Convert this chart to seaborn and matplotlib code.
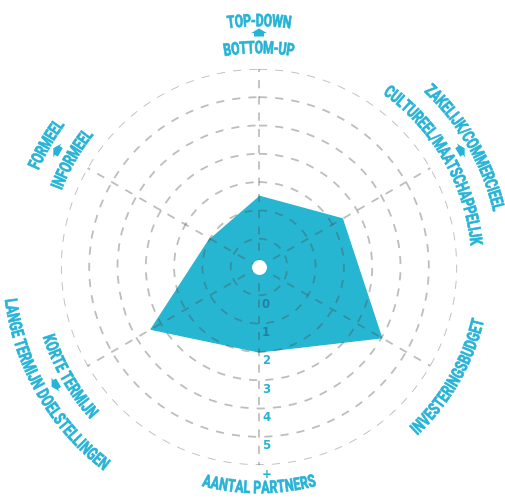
import numpy as np
import pandas as pd
import matplotlib
matplotlib.use('Agg')
import matplotlib.pyplot as plt
import seaborn as sns
from matplotlib.textpath import TextPath
from matplotlib.font_manager import FontProperties
from matplotlib.path import Path
from matplotlib.patches import PathPatch, Polygon

# data: one score per axis, clockwise from the top
categories = ['TOP-DOWN / BOTTOM-UP', 'ZAKELIJK / CULTUREEL', 'INVESTERINGSBUDGET',
              'AANTAL PARTNERS', 'LANGE / KORTE TERMIJN', 'FORMEEL / INFORMEEL']
scores = [1.5, 2.4, 4.0, 2.0, 3.4, 1.0]
ring_labels = ['0', '1', '2', '3', '4', '5', '+']

sns.set_style('white')
CYAN = '#27b6d2'
TXT = '#25b3d6'
FP = FontProperties(family=['Roboto', 'DejaVu Sans'], weight='bold')

W, H = 505, 498
CX, CY = 259, 267      # chart centre in image pixels
UNIT = 28.3            # pixels per score unit
rmin, rmax = -1, 6

fig = plt.figure(figsize=(W / 100, H / 100), dpi=100)
half = (rmax - rmin) * UNIT
ax = fig.add_axes([(CX - half) / W, (H - CY - half) / H, 2 * half / W, 2 * half / H],
                  projection='polar')
ax.set_theta_zero_location('N')
ax.set_theta_direction(-1)

theta = np.linspace(0, 2 * np.pi, len(categories), endpoint=False)
df = pd.DataFrame({'theta': np.append(theta, theta[0]),
                   'r': np.append(scores, scores[0])})
ax.fill(df['theta'], df['r'], color=CYAN, lw=0, zorder=1)
sns.lineplot(data=df, x='theta', y='r', sort=False, color=CYAN, lw=1, ax=ax, zorder=1)

ax.set_ylim(rmin, rmax)
ax.set_yticks(range(len(ring_labels)))
ax.set_yticklabels([])
ax.set_xticks(theta)
ax.set_xticklabels([])
ax.set_xlabel('')
ax.set_ylabel('')
ax.set_axisbelow(False)
ax.grid(True, color='#4a4a4a', alpha=0.36, linestyle=(0, (4.5, 4.5)), linewidth=1.3)
ax.spines['polar'].set_visible(False)

# white hole in the middle
ax.scatter([0], [rmin], s=115, color='white', linewidths=0, zorder=3)

# ring numbers along the bottom spoke
for k, lab in enumerate(ring_labels):
    col = '#2180a6' if k < 2 else TXT
    ax.annotate(lab, xy=(np.pi, k), xytext=(3, -9), textcoords='offset pixels',
                ha='left', va='center', fontsize=8.5, fontweight='bold', color=col, zorder=4)

# overlay in image pixels for the curved labels
ov = fig.add_axes([0, 0, 1, 1])
ov.set_xlim(0, W)
ov.set_ylim(H, 0)
ov.axis('off')


def arc_text(text, ang, radius, size=17.5, sx=0.7):
    tp = TextPath((0, 0), text, size=size, prop=FP)
    v = tp.vertices
    bb = tp.get_extents()
    xm = (bb.x0 + bb.x1) / 2
    cap = 0.72 * size
    s = (v[:, 0] - xm) * sx
    a0 = np.radians(ang)
    if 0 < ang < 180:
        th = a0 - s / radius
        rr = radius - cap / 2 + v[:, 1]
    else:
        th = a0 + s / radius
        rr = radius + cap / 2 - v[:, 1]
    pts = np.column_stack([CX + rr * np.cos(th), CY - rr * np.sin(th)])
    ov.add_patch(PathPatch(Path(pts, tp.codes), fc=TXT, ec=TXT, lw=0.45))


def arc_arrow(ang, radius):
    loc = np.array([(4.5, 0), (0, 8), (0, 5), (-3.5, 5), (-3.5, -5), (0, -5), (0, -8)])
    a0 = np.radians(ang)
    rr = radius + loc[:, 0]
    th = a0 + loc[:, 1] / radius
    pts = np.column_stack([CX + rr * np.cos(th), CY - rr * np.sin(th)])
    ov.add_patch(Polygon(pts, closed=True, fc=TXT, lw=0))


arc_text('TOP-DOWN', 90, 247)
arc_text('BOTTOM-UP', 90, 220)
arc_arrow(90, 234)

arc_text('ZAKELIJK/COMMERCIEEL', 30, 247)
arc_text('CULTUREEL/MAATSCHAPPELIJK', 30, 219)
arc_arrow(30, 233)

arc_text('INVESTERINGSBUDGET', -30, 225)
arc_text('AANTAL PARTNERS', -90, 220)

arc_text('LANGE TERMIJN DOELSTELLINGEN', -150, 250)
arc_text('KORTE TERMIJN', -150, 221)
arc_arrow(-150, 235)

arc_text('FORMEEL', 150, 247)
arc_text('INFORMEEL', 150, 218)
arc_arrow(150, 233)

fig.savefig('out.png', dpi=100)
